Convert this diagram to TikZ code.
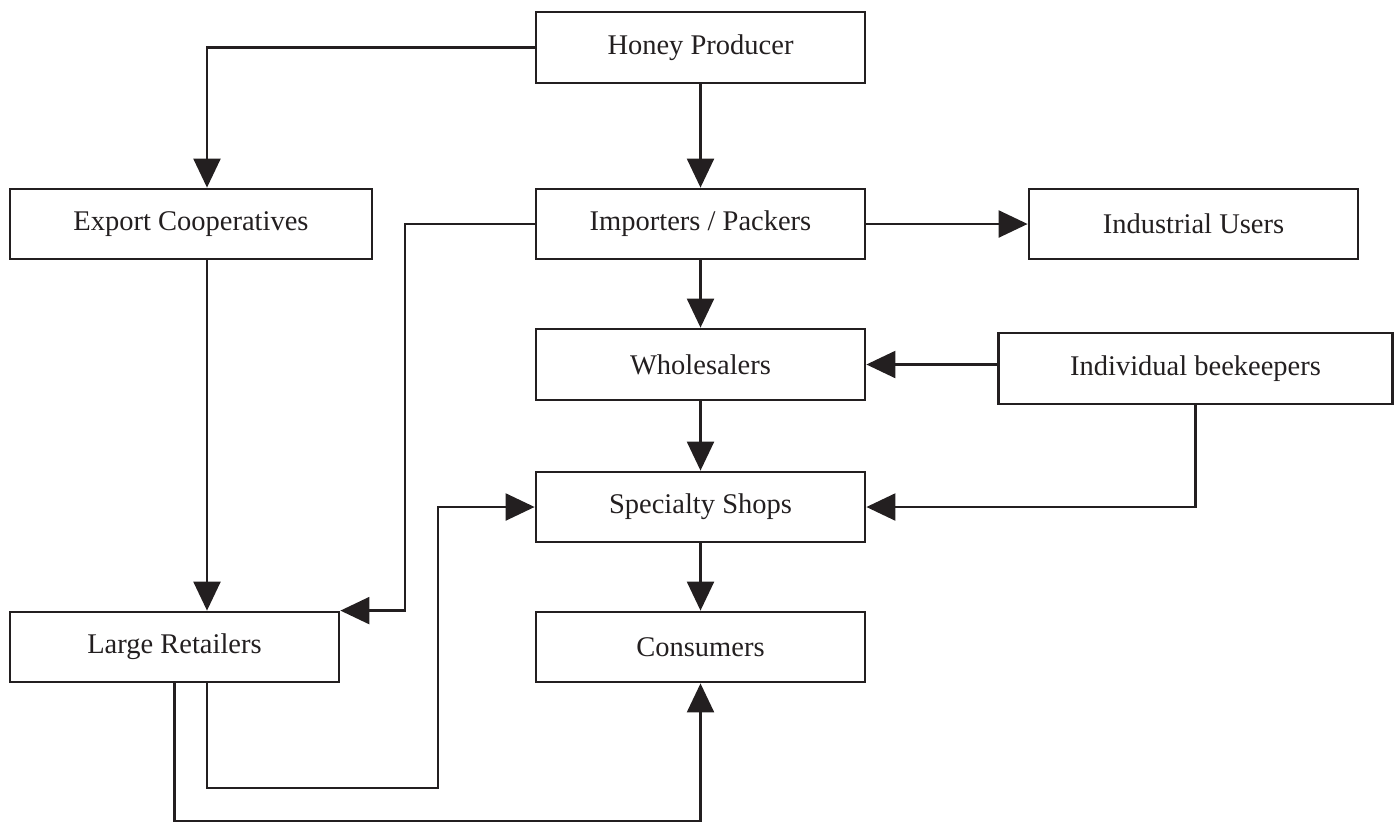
\documentclass[tikz,border=0pt]{standalone}
\usepackage{fontspec}
\setmainfont{Liberation Serif}
\usetikzlibrary{arrows.meta}
\definecolor{ink}{HTML}{231F20}
\tikzset{
  box/.style={draw=ink, line width=2.8pt, minimum height=70pt, inner sep=0pt,
    font=\fontsize{28.5}{30}\selectfont, text=ink},
  arr/.style={draw=ink, line width=2.3pt, -{Triangle[length=29pt,width=27pt]}},
  ln/.style={draw=ink, line width=2.3pt}
}
\begin{document}
\begin{tikzpicture}[x=1pt,y=-1pt]
\useasboundingbox (0,0) rectangle (1394,823);
\node[box, minimum width=329pt, minimum height=71pt] (honey) at (700.5,47.5) {Honey Producer};
\node[box, minimum width=362pt] (export) at (191,224) {Export Cooperatives};
\node[box, minimum width=329pt] (imp) at (700.5,224) {Importers / Packers};
\node[box, minimum width=329pt] (ind) at (1193.5,224) {Industrial Users};
\node[box, minimum width=329pt, minimum height=71pt] (whole) at (700.5,364.5) {Wholesalers};
\node[box, minimum width=394pt, minimum height=71pt] (bee) at (1195.5,368.5) {Individual beekeepers};
\node[box, minimum width=329pt] (spec) at (700.5,507) {Specialty Shops};
\node[box, minimum width=329pt] (large) at (174.5,647) {Large Retailers};
\node[box, minimum width=329pt] (cons) at (700.5,647) {Consumers};
\coordinate (bot) at (0,821);
\coordinate (mid) at (438,788);
\coordinate (impx) at (405,0);
% connectors
\draw[arr] (honey.west) -| ([xshift=16pt]export.north);
\draw[arr] (honey.south) -- (imp.north);
\draw[arr] ([xshift=16pt]export.south) -- ([xshift=16pt]export.south |- large.north);
\draw[arr] (imp.east) -- (ind.west);
\draw[arr] (imp.south) -- (whole.north);
\draw[arr] (imp.west) -- (impx |- imp.west) |- (large.north east);
\draw[arr] (bee.west |- whole.east) -- (whole.east);
\draw[arr] (whole.south) -- (spec.north);
\draw[arr] (bee.south) |- (spec.east);
\draw[arr] (spec.south) -- (cons.north);
\draw[arr] ([xshift=32.5pt]large.south) |- (mid) |- (spec.west);
\draw[arr] (large.south) |- (bot -| cons.south) -- (cons.south);
\end{tikzpicture}
\end{document}
